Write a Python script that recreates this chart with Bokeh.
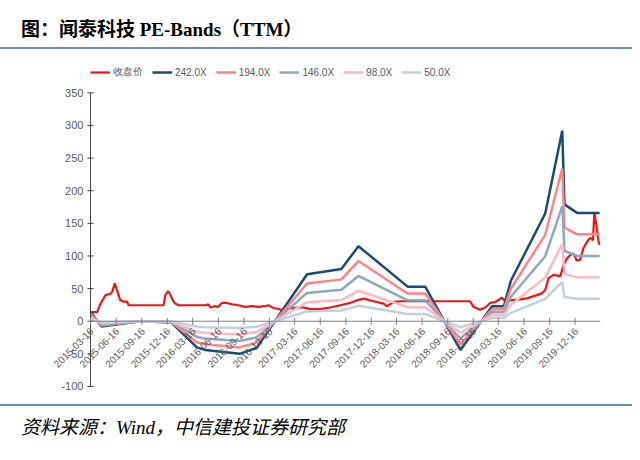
import math
import pandas as pd
from bokeh.plotting import figure
from bokeh.models import (Range1d, Legend, LegendItem, Div, LabelSet, ColumnDataSource)
from bokeh.core.properties import value
from bokeh.layouts import column
from bokeh.embed import file_html
from bokeh.resources import INLINE

# ---------------- data ----------------
band_dates = ["2015-03-16", "2015-04-25", "2015-09-10", "2015-12-31", "2016-03-31",
              "2016-04-30", "2016-08-31", "2016-10-31", "2017-04-30", "2017-08-31",
              "2017-10-31", "2018-04-25", "2018-06-27", "2018-10-31", "2019-02-22",
              "2019-04-05", "2019-04-30", "2019-08-31", "2019-10-31", "2019-11-08",
              "2019-12-23", "2020-03-13"]
band_242 = [14, -8, 0, -2, -40, -44, -50, -41, 72, 80, 115, 53, 53, -44, 23, 23, 62, 165, 292, 179, 166, 166]
band_194 = [11.2, -6.4, 0, -1.6, -32.1, -35.3, -40.1, -32.9, 57.7, 64.1, 92.2, 42.5, 42.5, -35.3, 18.4, 18.4, 49.7, 132.3, 234.1, 143.5, 133.1, 133.1]
band_146 = [8.4, -4.8, 0, -1.2, -24.1, -26.5, -30.2, -24.7, 43.4, 48.3, 69.4, 32.0, 32.0, -26.5, 13.9, 13.9, 37.4, 99.5, 176.2, 108.0, 100.1, 100.1]
band_98 = [5.7, -3.2, 0, -0.8, -16.2, -17.8, -20.2, -16.6, 29.2, 32.4, 46.6, 21.5, 21.5, -17.8, 9.3, 9.3, 25.1, 66.8, 118.3, 72.5, 67.2, 67.2]
band_50 = [2.9, -1.7, 0, -0.4, -8.3, -9.1, -10.3, -8.5, 14.9, 16.5, 23.8, 11.0, 11.0, -9.1, 4.8, 4.8, 12.8, 34.1, 60.3, 37.0, 34.3, 34.3]

price_dates = ["2015-03-16", "2015-04-09", "2015-04-21", "2015-05-09", "2015-05-27",
               "2015-06-02", "2015-06-11", "2015-06-17", "2015-06-25", "2015-07-01",
               "2015-07-13", "2015-07-25", "2015-07-31", "2015-12-03", "2015-12-09",
               "2015-12-19", "2015-12-27", "2016-01-05", "2016-01-14", "2016-01-26",
               "2016-05-01", "2016-05-11", "2016-05-19", "2016-06-02", "2016-06-16",
               "2016-06-29", "2016-07-15", "2016-08-04", "2016-08-28", "2016-09-21",
               "2016-10-15", "2016-11-08", "2016-11-28", "2016-12-13", "2016-12-31",
               "2017-01-12", "2017-01-30", "2017-03-01", "2017-03-22", "2017-04-18",
               "2017-05-12", "2017-06-16", "2017-07-22", "2017-08-27", "2017-10-02",
               "2017-10-26", "2017-11-18", "2017-12-12", "2018-01-05", "2018-01-29",
               "2018-02-10", "2018-03-06", "2018-03-30", "2018-12-05", "2018-12-17",
               "2019-01-10", "2019-01-28", "2019-02-15", "2019-03-05", "2019-03-29",
               "2019-04-10", "2019-04-28", "2019-05-27", "2019-06-26", "2019-08-01",
               "2019-08-20", "2019-08-31", "2019-09-12", "2019-09-30", "2019-10-24",
               "2019-11-04", "2019-11-17", "2019-11-28", "2019-12-10", "2019-12-22",
               "2020-01-03", "2020-01-15", "2020-01-27", "2020-02-08", "2020-02-18",
               "2020-02-23", "2020-03-03", "2020-03-09", "2020-03-13"]
price_values = [14, 14, 27, 40, 42, 45, 58, 50, 40, 32,
                30, 30, 24.5, 24.5, 40, 46, 41, 32, 27, 24.5,
                24.5, 26, 21, 23, 22, 28, 28, 26, 24.5, 22,
                23, 22, 23, 24.5, 20, 19.5, 17, 19.5, 21, 21,
                18.5, 18.5, 21, 24.5, 28, 32, 34.7, 32, 29.5, 27,
                23, 29.5, 30.6, 30.6, 22, 17.5, 21, 28, 29.5, 36,
                30, 32, 33, 35, 40, 43, 48, 66, 71, 69,
                85, 96, 101, 104, 93, 94, 112, 121, 128, 124,
                167, 142, 122, 117]

x_tick_dates = ["2015-03-16", "2015-06-16", "2015-09-16", "2015-12-16", "2016-03-16",
                "2016-06-16", "2016-09-16", "2016-12-16", "2017-03-16", "2017-06-16",
                "2017-09-16", "2017-12-16", "2018-03-16", "2018-06-16", "2018-09-16",
                "2018-12-16", "2019-03-16", "2019-06-16", "2019-09-16", "2019-12-16"]
y_ticks = [-100, -50, 0, 50, 100, 150, 200, 250, 300, 350]
axis_start = "2015-03-16"
axis_end = "2020-03-16"

series_names = ["收盘价", "242.0X", "194.0X", "146.0X", "98.0X", "50.0X"]
series_colors = ["#F01414", "#1B4A72", "#FF8286", "#8BA7C2", "#FFB8BD", "#BFD0E0"]

# ---------------- figure ----------------
bx = [pd.Timestamp(d) for d in band_dates]
px = [pd.Timestamp(d) for d in price_dates]
tx = [pd.Timestamp(d) for d in x_tick_dates]
a0 = pd.Timestamp(axis_start)
a1 = pd.Timestamp(axis_end)

# frame reaches further left than the value axis so that the slanted date labels are not clipped
p = figure(width=632, height=355, x_axis_type="datetime",
           x_range=Range1d(a0 - pd.Timedelta(days=179), a1),
           y_range=Range1d(-107.7, 399.5),
           output_backend="svg", toolbar_location=None,
           min_border_left=40, min_border_right=32, min_border_top=11, min_border_bottom=13)
p.outline_line_color = None
p.xgrid.visible = False
p.ygrid.visible = False
p.xaxis.visible = False
p.yaxis.visible = False

r_price = p.line(px, price_values, line_color=series_colors[0], line_width=2.2)
renderers = [r_price]
for vals, col in zip([band_242, band_194, band_146, band_98, band_50], series_colors[1:]):
    renderers.append(p.line(bx, vals, line_color=col, line_width=2.5))

# value axis at the start date
p.segment(x0=[a0], y0=[y_ticks[0]], x1=[a0], y1=[y_ticks[-1]], line_color="#404040", line_width=1)
p.scatter([a0] * len(y_ticks), y_ticks, marker="dash", size=6, line_color="#404040", line_width=1)
ysrc = ColumnDataSource(dict(x=[a0] * len(y_ticks), y=y_ticks, text=[str(v) for v in y_ticks]))
p.add_layout(LabelSet(x="x", y="y", text="text", source=ysrc, text_align="right",
                      text_baseline="middle", x_offset=-7, y_offset=0,
                      text_font=value("Liberation Sans"), text_font_size="11px",
                      text_color="#595959"))

# date axis along y = 0
p.segment(x0=[a0], y0=[0], x1=[a1], y1=[0], line_color="#7F7F7F", line_width=1)
p.scatter(tx, [0] * len(tx), marker="dash", angle=math.pi / 2, size=7,
          line_color="#7F7F7F", line_width=1)
xsrc = ColumnDataSource(dict(x=tx, y=[0] * len(tx), text=x_tick_dates))
p.add_layout(LabelSet(x="x", y="y", text="text", source=xsrc, angle=math.pi / 4,
                      text_align="right", text_baseline="middle", x_offset=1, y_offset=-8,
                      text_font=value("Liberation Sans"), text_font_size="10px",
                      text_color="#595959"))

legend = Legend(items=[LegendItem(label=n, renderers=[r]) for n, r in zip(series_names, renderers)],
                orientation="horizontal", location=(50, 312),
                label_text_font="Liberation Sans", label_text_font_size="10px",
                label_text_color="#595959", glyph_width=20, glyph_height=12,
                label_standoff=3, spacing=9, padding=2, margin=0,
                border_line_color=None, background_fill_alpha=0)
p.add_layout(legend, "center")

title = Div(text="图：闻泰科技 PE-Bands（TTM）", width=632, height=49, margin=(0, 0, 0, 0),
            styles={"font-family": "'Liberation Serif', 'Noto Sans CJK SC'", "font-weight": "bold",
                    "font-size": "19px", "color": "#000000", "border-bottom": "2px solid #6C8EB0",
                    "padding-left": "21px", "padding-top": "14px", "line-height": "32px",
                    "box-sizing": "border-box", "white-space": "nowrap"})
source = Div(text="资料来源：Wind，中信建投证券研究部", width=632, height=54, margin=(0, 0, 0, 0),
             styles={"font-family": "'Liberation Serif', 'Noto Sans CJK SC'", "font-style": "italic",
                     "font-size": "19px", "color": "#000000", "border-top": "2px solid #6C8EB0",
                     "padding-left": "21px", "line-height": "44px", "box-sizing": "border-box",
                     "white-space": "nowrap"})

layout = column(title, p, source, spacing=0)
open("out.html", "w").write(file_html(layout, INLINE))
